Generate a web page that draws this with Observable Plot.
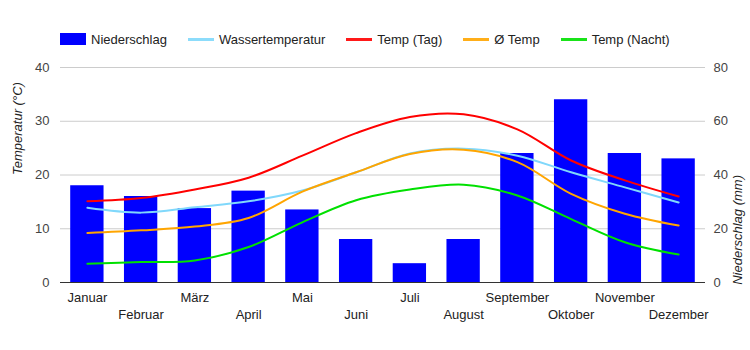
<!DOCTYPE html>
<html>
<head>
<meta charset="utf-8">
<script src="https://cdn.jsdelivr.net/npm/d3@7"></script>
<script src="https://cdn.jsdelivr.net/npm/@observablehq/plot@0.6"></script>
<style>
  body { margin: 0; background: #fff; font-family: "Liberation Sans", Arial, sans-serif; }
  #legend { height: 57px; box-sizing: border-box; padding-top: 21px; padding-left: 60px; display: flex; align-items: center; font-size: 13px; color: #222; }
  .item { display: flex; align-items: center; margin-right: 21px; }
  .sw { width: 26px; margin-right: 5px; }
</style>
</head>
<body>
<div id="legend"></div>
<div id="chart"></div>
<script>
const months = ["Januar","Februar","März","April","Mai","Juni","Juli","August","September","Oktober","November","Dezember"];
const precip = [36, 32, 27.5, 34, 27, 16, 7, 16, 48, 68, 48, 46];
const water = [13.9, 13.0, 14.0, 15.1, 17.1, 20.5, 24.0, 24.9, 23.6, 20.5, 17.7, 14.9];
const tempDay = [15.1, 15.7, 17.3, 19.5, 23.6, 27.8, 30.8, 31.3, 28.5, 22.7, 19.0, 16.0];
const tempAvg = [9.2, 9.7, 10.4, 12.0, 16.9, 20.5, 23.9, 24.7, 22.4, 16.5, 12.8, 10.6];
const tempNight = [3.5, 3.8, 4.1, 6.6, 11.2, 15.3, 17.3, 18.2, 16.2, 11.8, 7.5, 5.2];
const tempTicks = [0, 10, 20, 30, 40];

const series = [
  {name: "Niederschlag", color: "#0000ff", type: "bar"},
  {name: "Wassertemperatur", color: "#80d8fb", key: "water"},
  {name: "Temp (Tag)", color: "#ff0000", key: "tempDay"},
  {name: "Ø Temp", color: "#ffa500", key: "tempAvg"},
  {name: "Temp (Nacht)", color: "#00e000", key: "tempNight"}
];

const data = months.map((m, i) => ({
  month: m, precip: precip[i], water: water[i], tempDay: tempDay[i], tempAvg: tempAvg[i], tempNight: tempNight[i]
}));

// legend
const legend = document.getElementById("legend");
for (const s of series) {
  const it = document.createElement("div");
  it.className = "item";
  const sw = document.createElement("div");
  sw.className = "sw";
  sw.style.background = s.color;
  sw.style.height = s.type === "bar" ? "12px" : "3px";
  if (s.type !== "bar") sw.style.opacity = "0.9";
  it.appendChild(sw);
  const t = document.createElement("span");
  t.textContent = s.name;
  it.appendChild(t);
  legend.appendChild(it);
}

const lineMarks = series.filter(s => s.key).map(s =>
  Plot.line(data, {x: "month", y: s.key, stroke: s.color, strokeWidth: 2, curve: "catmull-rom"})
);

const chart = Plot.plot({
  width: 750,
  height: 293,
  marginLeft: 60,
  marginRight: 45,
  marginTop: 10,
  marginBottom: 68,
  style: {fontFamily: "Liberation Sans, Arial, sans-serif", fontSize: "13px", color: "#444"},
  x: {type: "band", domain: months, paddingInner: 0.38, paddingOuter: 0.19, round: false},
  y: {domain: [0, 40]},
  marks: [
    Plot.gridY(tempTicks.filter(d => d > 0), {stroke: "#cccccc", strokeOpacity: 1}),
    Plot.axisY(tempTicks, {anchor: "left", tickSize: 0, tickPadding: 11, label: null, fill: "#444"}),
    Plot.axisY(tempTicks, {anchor: "right", tickSize: 0, tickPadding: 8, label: null, fill: "#444", tickFormat: d => d * 2}),
    Plot.axisX(months.filter((d, i) => i % 2 === 0), {anchor: "bottom", tickSize: 0, tickPadding: 10, label: null, fill: "#222"}),
    Plot.axisX(months.filter((d, i) => i % 2 === 1), {anchor: "bottom", tickSize: 0, tickPadding: 27, label: null, fill: "#222"}),
    Plot.barY(data, {x: "month", y: d => d.precip / 2, fill: "#0000ff"}),
    ...lineMarks,
    Plot.ruleY([0], {stroke: "#333"}),
    Plot.text(["Temperatur (°C)"], {frameAnchor: "left", rotate: -90, dx: -43, text: d => d, fontStyle: "italic", fill: "#222", fontSize: 13}),
    Plot.text(["Niederschlag (mm)"], {frameAnchor: "right", rotate: -90, dx: 32, text: d => d, fontStyle: "italic", fill: "#222", fontSize: 13})
  ]
});
document.getElementById("chart").appendChild(chart);
</script>
</body>
</html>
